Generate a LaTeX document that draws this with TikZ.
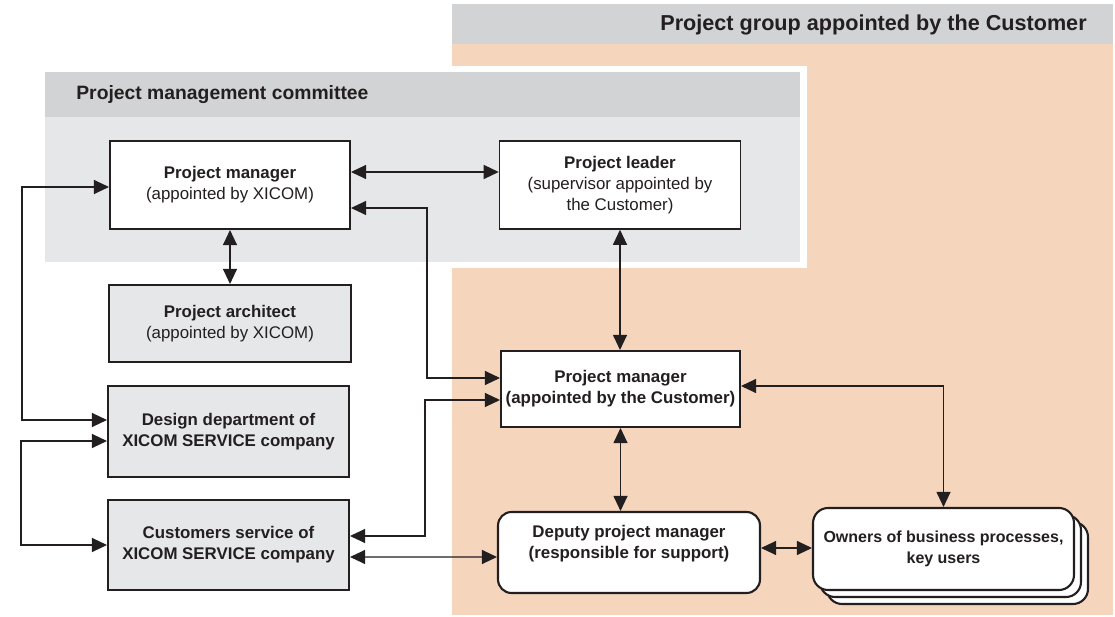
\documentclass[tikz,border=0pt]{standalone}
\usepackage{fontspec}
\setmainfont{Liberation Sans}
\usetikzlibrary{arrows.meta,calc}
\definecolor{peach}{HTML}{F6D5BD}
\definecolor{bandgray}{HTML}{D1D3D4}
\definecolor{panelgray}{HTML}{E6E7E8}
\definecolor{ink}{HTML}{231F20}
\tikzset{
	box/.style={draw=ink,line width=1.2pt,fill=white,inner sep=0pt,align=center,text=ink,font=\fontsize{9.6}{12}\selectfont},
	gbox/.style={box,fill=panelgray},
	rbox/.style={box,rounded corners=0.27cm},
	obox/.style={box,rounded corners=0.3cm,minimum width=5.22cm,minimum height=1.64cm,font=\fontsize{9.1}{12}\selectfont},
	title/.style={inner sep=0pt,text=ink},
	link/.style={draw=ink,line width=0.6pt,{Triangle[length=0.3cm,width=0.28cm]}-{Triangle[length=0.3cm,width=0.28cm]}},
}

\begin{document}
\begin{tikzpicture}[x=0.02cm,y=-0.02cm]
	\useasboundingbox (0,0) rectangle (1115,617);
	% customer group and committee backgrounds
	\fill[peach] (452,44) rectangle (1113,615);
	\fill[bandgray] (452,4) rectangle (1113,44);
	\fill[white] (40,66) rectangle (807,268);
	\fill[bandgray] (45,72) rectangle (800,117);
	\fill[panelgray] (45,117) rectangle (800,262);
	\node[title,anchor=east,font=\fontsize{12.3}{14}\selectfont\bfseries] (grp) at (1087,25) {Project group appointed by the Customer};
	\node[title,anchor=west,font=\fontsize{11}{13}\selectfont\bfseries] (com) at (76,95) {Project management committee};
	% boxes
	\node[box,minimum width=4.8cm,minimum height=1.76cm] (pmx) at (230,185) {\textbf{Project manager}\\(appointed by XICOM)};
	\node[box,line width=0.9pt,minimum width=4.82cm,minimum height=1.76cm] (pl) at (620,185) {\textbf{Project leader}\\(supervisor appointed by\\the Customer)};
	\node[gbox,minimum width=4.84cm,minimum height=1.54cm] (arch) at (230,323.5) {\textbf{Project architect}\\(appointed by XICOM)};
	\node[gbox,minimum width=4.82cm,minimum height=1.82cm] (dsg) at (228.5,431.5) {\textbf{Design department of}\\\textbf{XICOM SERVICE company}};
	\node[gbox,minimum width=4.82cm,minimum height=1.8cm] (csv) at (228.5,545) {\textbf{Customers service of}\\\textbf{XICOM SERVICE company}};
	\node[box,minimum width=4.78cm,minimum height=1.52cm] (pmc) at (620.5,389) {\textbf{Project manager}\\\textbf{(appointed by the Customer)}};
	\node[rbox,minimum width=5.24cm,minimum height=1.62cm] (dep) at (629,552.5) {\textbf{Deputy project manager}\\\textbf{(responsible for support)}\\\mbox{}};
	\foreach \d in {14,7} \node[obox] (own\d) at ({943.5+\d},{549+\d}) {};
	\node[obox] (own) at (943.5,549) {\textbf{Owners of business processes,}\\\textbf{key users}};
	% connectors
	\draw[link] ($(pmx.east)+(0,-13)$) -- ($(pl.west)+(0,-13)$);
	\draw[link] (pmx.south) -- (arch.north);
	\draw[link] ($(pmx.west)+(0,2)$) -| (22,300) |- ($(dsg.west)+(0,-11.5)$);
	\draw[link] ($(dsg.west)+(0,9.5)$) -| (21,500) |- (csv.west);
	\draw[link] ($(pmx.east)+(0,23)$) -| (427,300) |- ($(pmc.west)+(0,-11)$);
	\draw[link] ($(csv.east)+(0,-9)$) -| (425,450) |- ($(pmc.west)+(0,11)$);
	\draw[link] ($(csv.east)+(0,12)$) -- ($(dep.west)+(0,4.5)$);
	\draw[link] (pl.south) -- (pl.south |- pmc.north);
	\draw[link] (pmc.south) -- (pmc.south |- dep.north);
	\draw[link] ($(pmc.east)+(0,-3)$) -| (own.north);
	\draw[link] ($(dep.east)+(0,-4.5)$) -- ($(own.west)+(0,-1)$);
\end{tikzpicture}
\end{document}
